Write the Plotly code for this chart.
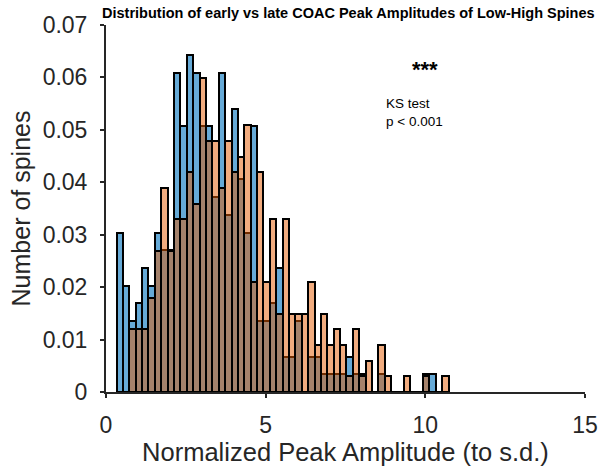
import plotly.graph_objects as go

# Histogram bins shared by both groups (Normalized Peak Amplitude, s.d. units)
BIN_START = 0.33
BIN_WIDTH = 0.2

# Spine counts per bin
early_counts = [9, 6, 4, 5, 7, 6, 9, 8, 8, 18, 15, 19, 18, 15, 15, 11, 18, 10, 16, 12,
                9, 15, 4, 4, 5, 7, 2, 2, 4, 0, 2, 2, 1, 1, 1, 1, 2, 1, 1, 0,
                0, 1, 0, 0, 0, 0, 0, 0, 1, 1, 0, 0]
late_counts = [0, 0, 4, 4, 4, 6, 9, 13, 9, 11, 11, 14, 12, 20, 16, 16, 13, 16, 14, 15,
               17, 7, 14, 7, 11, 5, 11, 5, 5, 5, 7, 3, 5, 3, 4, 3, 1, 4, 1, 2,
               0, 3, 1, 0, 0, 1, 0, 0, 1, 0, 0, 1]

x_ticks = [0, 5, 10, 15]
y_ticks = [0, 0.01, 0.02, 0.03, 0.04, 0.05, 0.06, 0.07]
y_tick_text = ["0", "0.01", "0.02", "0.03", "0.04", "0.05", "0.06", "0.07"]

centers = [BIN_START + BIN_WIDTH * (i + 0.5) for i in range(len(early_counts))]
early_prob = [c / sum(early_counts) for c in early_counts]
late_prob = [c / sum(late_counts) for c in late_counts]

AXIS_COLOR = "#262626"
FONT = "Liberation Sans, Arial, sans-serif"

fig = go.Figure()
fig.add_trace(go.Bar(
    x=centers, y=early_prob, width=BIN_WIDTH, name="early",
    marker=dict(color="rgba(0,114,189,0.6)", line=dict(color="black", width=2)),
))
fig.add_trace(go.Bar(
    x=centers, y=late_prob, width=BIN_WIDTH, name="late",
    marker=dict(color="rgba(228,90,0,0.5)", line=dict(color="black", width=2)),
))

fig.update_layout(
    width=610, height=470,
    margin=dict(l=106, r=24, t=23, b=78),
    barmode="overlay", bargap=0,
    plot_bgcolor="white", paper_bgcolor="white",
    showlegend=False,
    font=dict(family=FONT, color=AXIS_COLOR),
    title=dict(
        text="<b>Distribution of early vs late COAC Peak Amplitudes of Low-High Spines</b>",
        x=0.571, xanchor="center", y=0.973, yanchor="middle",
        font=dict(size=14.5, color="black", family=FONT),
    ),
    xaxis=dict(
        range=[0, 15], tickvals=x_ticks, ticks="outside", ticklen=4, tickwidth=1.5,
        tickcolor=AXIS_COLOR, showline=True, linecolor=AXIS_COLOR, linewidth=2,
        showgrid=False, zeroline=False, tickfont=dict(size=23),
        ticklabelstandoff=7,
        title=dict(text="Normalized Peak Amplitude (to s.d.)", font=dict(size=25.5), standoff=0),
    ),
    yaxis=dict(
        range=[0, 0.07], tickvals=y_ticks, ticktext=y_tick_text, ticks="outside", ticklen=4,
        tickwidth=1.5, tickcolor=AXIS_COLOR, showline=True, linecolor=AXIS_COLOR, linewidth=2,
        showgrid=False, zeroline=False, tickfont=dict(size=23),
        ticklabelstandoff=8,
        title=dict(text="Number of spines", font=dict(size=25), standoff=5),
    ),
    annotations=[
        dict(x=10.0, y=0.0615, xref="x", yref="y", text="<b>***</b>", showarrow=False,
             font=dict(size=22, color="black", family=FONT)),
        dict(x=8.7, y=0.0568, xref="x", yref="y", text="KS test<br>p &lt; 0.001",
             showarrow=False, xanchor="left", yanchor="top", align="left",
             font=dict(size=13.5, color="black", family=FONT)),
    ],
)

fig.write_html("out.html")
